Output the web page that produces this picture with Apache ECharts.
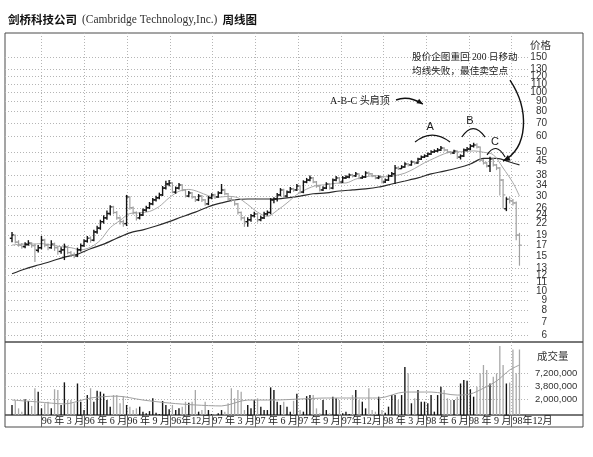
<!DOCTYPE html>
<html><head><meta charset="utf-8">
<script src="https://cdn.jsdelivr.net/npm/echarts@6/dist/echarts.min.js"></script>
<style>html,body{margin:0;padding:0;background:#fff}#c{width:593px;height:457px}</style>
</head><body><div id="c"></div>
<script>
// ---------- data (weekly bars, week 0 = 1995-12-29) ----------
const weekStart = '1995-12-29';
const openP = [
18.4,19.0,17.6,17.0,16.7,17.1,17.4,16.9,16.0,16.5,
18.0,17.0,16.5,17.2,16.5,15.8,16.1,16.7,15.6,15.2,
15.0,16.1,16.9,17.8,18.4,18.0,19.8,20.7,22.3,23.3,
24.5,26.5,24.8,23.3,22.3,21.8,29.7,26.2,24.8,23.3,
24.1,25.5,26.2,27.4,28.7,29.4,30.4,32.9,34.5,34.9,
31.4,32.9,34.1,32.2,30.0,31.1,29.7,28.7,30.0,28.7,
27.4,29.4,30.4,29.7,31.1,32.2,30.8,29.0,28.7,27.4,
24.8,23.3,22.3,22.8,23.9,24.4,22.8,23.3,24.4,24.8,
28.7,29.0,30.4,32.2,30.0,31.4,32.6,32.2,33.7,31.4,
35.3,36.1,37.0,35.3,33.7,32.2,32.9,34.5,32.9,36.1,
37.0,35.3,37.0,37.4,38.3,37.9,38.8,37.0,37.4,39.2,
38.8,37.9,37.0,37.4,35.3,36.1,37.9,38.8,41.5,41.2,
42.0,43.5,43.0,44.5,44.0,46.0,47.1,47.7,48.8,50.0,
50.5,51.1,52.3,51.1,50.0,49.4,50.5,47.1,47.7,51.1,
51.7,53.5,54.2,52.9,45.5,44.0,42.5,46.0,43.0,41.5,
36.1,25.9,28.9,28.4,27.7,19.1];
const highP = [
19.8,19.2,18.0,17.4,17.6,18.0,17.6,17.2,17.0,18.9,
18.3,17.3,18.0,17.5,16.8,16.6,17.3,16.9,15.9,15.6,
16.5,17.3,18.2,18.9,18.8,20.3,21.3,22.8,24.0,25.4,
27.0,26.8,25.2,23.7,22.8,30.4,29.9,26.6,25.1,24.8,
26.0,26.8,28.0,29.3,30.1,31.2,33.7,35.8,36.1,35.2,
33.5,34.9,34.4,32.5,31.8,31.4,30.0,30.7,30.4,29.0,
30.0,31.0,30.8,31.7,34.5,32.6,31.1,29.6,29.0,27.7,
25.1,23.7,23.5,24.4,25.0,24.7,23.9,25.0,25.4,29.3,
29.6,31.1,32.9,32.6,32.0,33.3,33.0,34.5,34.0,36.0,
37.0,38.0,37.4,35.7,34.0,33.6,35.2,34.8,36.8,37.8,
37.4,37.8,38.2,39.0,38.8,39.6,39.1,38.1,40.0,39.8,
39.2,38.3,38.1,37.7,36.8,38.5,39.6,43.0,42.4,42.9,
44.3,44.0,45.3,45.0,46.8,48.0,48.6,49.7,51.0,51.5,
52.3,53.5,52.8,51.6,50.6,51.3,50.8,48.6,52.0,53.0,
54.7,55.6,55.2,53.2,46.0,44.6,47.3,46.4,43.5,42.0,
36.5,29.6,29.7,29.0,28.2,19.6];
const lowP = [
17.6,17.3,16.7,16.3,16.4,16.9,16.5,14.0,15.6,16.2,
16.6,16.0,16.3,15.9,15.2,15.4,14.3,15.3,14.8,14.6,
14.8,15.8,16.7,17.5,17.5,17.8,19.4,20.3,21.8,22.8,
24.0,24.3,22.8,21.6,21.0,21.2,25.6,24.2,22.6,22.9,
23.8,25.0,25.8,27.0,28.2,28.9,30.0,32.4,33.6,31.0,
30.8,32.4,31.7,29.5,29.6,29.1,28.0,28.3,28.0,26.8,
27.0,28.9,29.0,29.4,30.7,30.3,28.5,28.1,26.8,24.2,
22.6,21.0,21.0,22.3,23.4,22.1,22.4,23.0,23.9,24.3,
27.6,28.2,29.9,29.5,29.6,31.0,31.5,31.8,30.9,31.0,
34.8,35.6,34.8,33.0,31.6,31.8,32.5,32.3,32.5,35.6,
34.8,34.9,36.5,36.9,37.2,37.4,36.4,36.6,37.0,38.1,
37.3,36.4,36.5,34.7,34.9,35.7,37.4,34.5,40.6,41.0,
41.6,42.2,42.6,43.2,43.6,45.5,46.6,47.2,48.3,49.4,
49.8,50.6,50.3,49.3,48.5,48.8,46.0,45.8,47.2,50.4,
51.0,52.6,52.0,44.6,43.2,41.7,39.6,42.2,40.5,30.2,
26.0,25.2,27.5,26.9,18.0,13.4];
const closeP = [
19.1,17.6,17.0,16.7,17.2,17.4,16.9,16.1,16.5,18.0,
17.0,16.5,17.2,16.5,15.8,16.1,16.7,15.6,15.2,15.0,
16.1,16.9,17.8,18.4,18.0,19.8,20.7,22.3,23.3,24.5,
26.5,24.8,23.3,22.3,21.8,29.7,26.2,24.8,23.3,24.1,
25.5,26.2,27.4,28.7,29.4,30.4,32.9,34.5,34.9,31.4,
32.9,34.1,32.2,30.0,31.1,29.7,28.7,30.0,28.7,27.4,
29.4,30.4,29.7,31.1,32.2,30.8,29.0,28.7,27.4,24.8,
23.3,22.3,22.8,23.9,24.4,22.8,23.3,24.4,24.8,28.7,
29.0,30.4,32.2,30.0,31.4,32.6,32.2,33.7,31.4,35.3,
36.1,37.0,35.3,33.7,32.2,32.9,34.5,32.9,36.1,37.0,
35.3,37.0,37.4,38.3,37.9,38.8,37.0,37.4,39.2,38.8,
37.9,37.0,37.4,35.3,36.1,37.9,38.8,41.5,41.2,42.0,
43.5,43.0,44.5,44.0,46.0,47.1,47.7,48.8,50.0,50.5,
51.1,52.3,51.1,50.0,49.4,50.5,47.1,47.7,51.1,51.7,
53.5,54.2,52.9,45.5,44.0,42.5,46.0,43.0,41.5,36.1,
30.4,28.9,28.4,27.7,19.1,17.0];
// weekly volume, millions of shares
const volume = [
1.49,1.83,1.26,1.07,1.97,1.81,1.42,3.4,2.87,1.26,
1.62,1.75,1.26,3.24,3.1,1.49,4.55,1.9,1.9,1.62,
4.3,1.75,1.16,2.43,3.4,1.75,3.0,2.87,2.6,1.9,
1.37,2.43,2.43,1.62,2.3,1.49,1.37,1.16,1.26,1.37,
1.07,0.99,1.1,2.07,1.02,0.95,1.81,1.49,1.2,1.49,
1.16,1.26,1.37,1.75,1.67,1.75,3.1,1.07,1.16,1.75,
1.16,0.95,0.95,0.99,1.16,1.07,1.62,3.4,2.07,3.1,
2.87,1.16,1.49,1.26,1.9,2.07,
1.37,1.16,1.16,3.55,3.1,1.75,1.49,1.75,1.37,1.07,
1.83,2.6,1.16,1.07,2.3,2.43,2.43,1.26,0.99,1.9,
1.16,0.99,2.24,2.07,1.9,0.99,1.07,0.95,2.43,3.1,
1.9,1.75,1.26,3.4,1.16,1.07,2.24,1.16,1.02,1.37,
2.43,2.43,1.9,2.43,9.7,7.1,1.62,2.07,3.1,1.75,
1.75,1.62,2.43,1.07,2.43,3.66,3.1,2.07,1.9,1.9,
2.24,4.3,5.1,4.9,3.24,2.24,3.66,7.1,10.7,8.35,
4.3,6.0,7.1,27.3,10.7,4.3,4.5,23,7.1,23];
// 200-day moving average (read every 4 weeks)
const ma200Weeks = [0,4,8,12,16,20,24,28,32,36,40,44,48,52,56,60,64,68,72,76,80,84,88,92,96,100,104,108,112,116,120,124,128,132,136,140,144,148,152,155];
const ma200 = [12.2,12.9,13.5,14.1,14.8,15.3,16.3,17.2,18.4,19.6,20.3,21.2,22.3,23.6,24.9,26.5,27.7,28.7,29.0,29.0,29.0,29.4,30.0,30.8,31.1,31.8,32.2,32.6,33.3,34.5,35.7,37.0,38.8,40.0,41.5,43.5,46.4,46.4,44.5,43.0];
// short moving average (read every 3 weeks)
const ma10Weeks = [0,3,6,9,12,15,18,21,24,27,30,33,36,39,42,45,48,51,54,57,60,63,66,69,72,75,78,81,84,87,90,93,96,99,102,105,108,111,114,117,120,123,126,129,132,135,138,141,144,147,150,153,155];
const ma10 = [17.0,17.2,17.2,17.3,17.0,16.7,16.5,16.1,16.6,18.0,20.8,22.6,24.5,24.7,25.1,26.6,29.4,31.7,32.4,31.5,30.1,29.6,29.9,29.4,27.2,24.9,23.7,25.4,27.7,30.5,32.5,33.9,34.2,34.8,34.9,36.5,37.5,38.0,37.5,38.0,39.1,41.3,44.1,46.5,48.9,50.1,50.1,50.6,49.8,48.4,41.5,35.0,30.0];
// volume moving average (millions)
const volMaWeeks = [0,8,16,24,32,40,48,56,64,72,80,88,96,104,112,120,128,136,140,144,148,152,155];
const volMa = [1.9,1.73,1.57,2.1,2.3,1.9,1.64,1.49,1.42,1.9,1.9,2.0,2.1,2.1,2.1,2.82,2.82,2.43,2.56,3.4,4.85,8.35,10.7];
// axes
const priceTicks = [6,7,8,9,10,11,12,13,15,17,19,22,24,26,30,34,38,45,50,60,70,80,90,100,110,120,130,150];
const volTicks = [2,3.8,7.2];
const quarterStarts = ['1996-03-01','1996-06-01','1996-09-01','1996-12-01','1997-03-01','1997-06-01','1997-09-01','1997-12-01','1998-03-01','1998-06-01','1998-09-01','1998-12-01','1999-03-01'];
const quarterLabels = ['96 年 3 月','96 年 6 月','96 年 9 月','96年12月','97 年 3 月','97 年 6 月','97 年 9 月','97年12月','98 年 3 月','98 年 6 月','98 年 9 月','98年12月'];
// annotations in (week, price) space
const notes = {
  abc: [97.1, 90.1],
  arrow1: [[117.3, 91.2],[121.0, 96.6],[125.5, 87.0]],
  line1: [122.2, 150], line2: [122.2, 127.5],
  arrow2: [[152.1, 114.9],[158.2, 81.2],[157.6, 52.3],[150.0, 45.0]],
  arcA: [[123.1,56.1],[128.3,65.9],[133.8,56.1]], labA: [127.7, 66.5],
  arcB: [[137.4,59.4],[140.8,72.3],[144.5,59.4]], labB: [139.9, 71.5],
  arcC: [[145.1,48.3],[147.8,56.7],[150.6,47.1]], labC: [147.5, 56.0]
};

// ---------- layout ----------
const PXW = 3.274;            // pixels per week
const LEFT = 5, DATA_W = 525, FULL_W = 578;
const XMIN = -7 / PXW;
const XMAX = XMIN + DATA_W / PXW;
const XMAX_FULL = XMIN + FULL_W / PXW;
const wk = d => (Date.parse(d) - Date.parse(weekStart)) / (7 * 864e5);
const qPos = quarterStarts.map(wk);
const qSep = qPos.slice(0, 12);
const qMid = quarterLabels.map((_, k) => (qPos[k] + qPos[k + 1]) / 2);
const P_MIN = 5.54, P_MAX = 198, V_MIN = 0.908, V_MAX = 33.3;

const CJK = '"Noto Sans CJK SC"';
const dot = { show: true, lineStyle: { color: '#b5b5b5', width: 1, type: [1, 2] } };

const barData = closeP.map((c, i) => [i, openP[i], highP[i], lowP[i], c]);
const volData = volume.map((v, i) => [i, v, closeP[i] >= openP[i] ? 1 : 0]);

function renderBar(params, api) {
  const i = api.value(0), o = api.value(1), h = api.value(2), l = api.value(3), c = api.value(4);
  const ph = api.coord([i, h]), pl = api.coord([i, l]), po = api.coord([i, o]), pc = api.coord([i, c]);
  const up = c >= o;
  const col = up ? '#141414' : '#a0a0a0';
  const lw = up ? 1.4 : 1.2, t = 2.2;
  return { type: 'group', children: [
    { type: 'line', shape: { x1: ph[0], y1: ph[1], x2: pl[0], y2: pl[1] }, style: { stroke: col, lineWidth: lw } },
    { type: 'line', shape: { x1: po[0] - t, y1: po[1], x2: po[0], y2: po[1] }, style: { stroke: col, lineWidth: lw } },
    { type: 'line', shape: { x1: pc[0], y1: pc[1], x2: pc[0] + t, y2: pc[1] }, style: { stroke: col, lineWidth: lw } }
  ]};
}
function renderVol(params, api) {
  const i = api.value(0), v = api.value(1), up = api.value(2);
  const top = api.coord([i, v]), bot = api.coord([i, V_MIN]);
  return { type: 'line', shape: { x1: top[0], y1: top[1], x2: bot[0], y2: bot[1] },
    style: { stroke: up ? '#141414' : '#a8a8a8', lineWidth: up ? 1.4 : 1.3 } };
}
function renderNotes(params, api) {
  const P = p => api.coord(p);
  const ink = '#111';
  const quad = (a, b, c, w) => { const A = P(a), B = P(b), C = P(c);
    return { type: 'bezierCurve', shape: { x1: A[0], y1: A[1], cpx1: B[0], cpy1: B[1], x2: C[0], y2: C[1] },
      style: { stroke: ink, lineWidth: w || 1.2, fill: 'none' } }; };
  const cubic = (a, b, c, d) => { const A = P(a), B = P(b), C = P(c), D = P(d);
    return { type: 'bezierCurve', shape: { x1: A[0], y1: A[1], cpx1: B[0], cpy1: B[1], cpx2: C[0], cpy2: C[1], x2: D[0], y2: D[1] },
      style: { stroke: ink, lineWidth: 1.4, fill: 'none' } }; };
  const head = (from, to, len, wid) => { const F = P(from), T = P(to);
    const dx = T[0] - F[0], dy = T[1] - F[1], d = Math.hypot(dx, dy), ux = dx / d, uy = dy / d;
    return { type: 'polygon', shape: { points: [[T[0], T[1]],
      [T[0] - ux * len - uy * wid, T[1] - uy * len + ux * wid],
      [T[0] - ux * len + uy * wid, T[1] - uy * len - ux * wid]] }, style: { fill: ink } }; };
  const txt = (p, s, font, align) => { const A = P(p);
    return { type: 'text', style: { text: s, x: A[0], y: A[1], font: font, fill: '#1a1a1a',
      align: align, textAlign: align, verticalAlign: 'middle', textVerticalAlign: 'middle' } }; };
  const f1 = '9.6px "Liberation Serif", ' + CJK;
  const fA = '10px "Liberation Serif", ' + CJK;
  const fL = '11px "Liberation Sans"';
  const a1 = notes.arrow1, a2 = notes.arrow2;
  return { type: 'group', children: [
    txt(notes.abc, 'A-B-C 头肩顶', fA, 'left'),
    quad(a1[0], a1[1], a1[2], 1.4), head(a1[1], a1[2], 6, 2.6),
    txt(notes.line1, '股价企图重回 200 日移动', f1, 'left'),
    txt(notes.line2, '均线失败，最佳卖空点', f1, 'left'),
    cubic(a2[0], a2[1], a2[2], a2[3]), head(a2[2], a2[3], 7, 3),
    quad(notes.arcA[0], notes.arcA[1], notes.arcA[2]), txt(notes.labA, 'A', fL, 'center'),
    quad(notes.arcB[0], notes.arcB[1], notes.arcB[2]), txt(notes.labB, 'B', fL, 'center'),
    quad(notes.arcC[0], notes.arcC[1], notes.arcC[2]), txt(notes.labC, 'C', fL, 'center')
  ]};
}

const hidden = g => ({ gridIndex: g, type: 'value', show: false, min: 0, max: 1 });
const frame = { show: true, borderColor: '#4a4a4a', borderWidth: 1, backgroundColor: 'transparent', outerBoundsMode: 'none' };

const option = {
  animation: false,
  backgroundColor: '#fff',
  title: {
    left: 3, top: 6,
    text: '{b|剑桥科技公司} {r|(Cambridge Technology,Inc.)} {b|周线图}',
    textStyle: { fontWeight: 'normal', rich: {
      b: { fontFamily: CJK, fontWeight: 'bold', fontSize: 11.5, color: '#111' },
      r: { fontFamily: 'Liberation Serif', fontWeight: 'normal', fontSize: 11.5, color: '#333' } } }
  },
  graphic: [
    { type: 'text', left: 530, top: 40, style: { text: '价格', font: '10.5px ' + CJK, fill: '#333' } },
    { type: 'text', left: 537, top: 351, style: { text: '成交量', font: '10.5px ' + CJK, fill: '#333' } }
  ],
  grid: [
    { left: LEFT, top: 33, width: DATA_W, height: 309, show: false, outerBoundsMode: 'none' },
    { left: LEFT, top: 342, width: DATA_W, height: 73, show: false, outerBoundsMode: 'none' },
    Object.assign({ left: LEFT, top: 33, width: FULL_W, height: 309 }, frame),
    Object.assign({ left: LEFT, top: 342, width: FULL_W, height: 73 }, frame),
    Object.assign({ left: LEFT, top: 415, width: FULL_W, height: 12 }, frame)
  ],
  xAxis: [
    { gridIndex: 0, type: 'value', min: XMIN, max: XMAX, axisLine: { show: false },
      axisTick: { show: false, customValues: qSep }, axisLabel: { show: false }, splitLine: dot },
    { gridIndex: 1, type: 'value', min: XMIN, max: XMAX, axisLine: { show: false },
      axisTick: { show: false, customValues: qSep }, axisLabel: { show: false }, splitLine: dot },
    hidden(2), hidden(3),
    { gridIndex: 4, type: 'value', min: XMIN, max: XMAX_FULL, axisLine: { show: false },
      axisTick: { show: false, customValues: qSep },
      splitLine: { show: true, lineStyle: { color: '#666', width: 1 } },
      axisLabel: { show: true, inside: true, margin: 1, customValues: qMid,
        showMinLabel: true, showMaxLabel: true, hideOverlap: false, interval: 0,
        fontFamily: '"Liberation Serif", ' + CJK, fontSize: 10, color: '#222',
        formatter: v => { const k = qMid.findIndex(m => Math.abs(m - v) < 0.01); return k >= 0 ? quarterLabels[k] : ''; } } }
  ],
  yAxis: [
    { gridIndex: 0, type: 'log', logBase: 10, min: P_MIN, max: P_MAX, position: 'right',
      axisLine: { show: false }, axisTick: { show: false, customValues: priceTicks },
      axisLabel: { customValues: priceTicks, align: 'right', margin: 17, fontSize: 10,
        showMinLabel: true, showMaxLabel: true, hideOverlap: false,
        fontFamily: '"Liberation Sans Narrow", "Liberation Sans"', color: '#333', formatter: v => String(Math.round(v)) },
      splitLine: dot },
    { gridIndex: 1, type: 'log', logBase: 10, min: V_MIN, max: V_MAX, position: 'right',
      axisLine: { show: false }, axisTick: { show: false, customValues: volTicks },
      axisLabel: { customValues: volTicks, margin: 5, fontSize: 9.5,
        fontFamily: '"Liberation Sans"', color: '#333',
        formatter: v => Math.round(v * 1e6).toLocaleString('en-US') },
      splitLine: dot },
    hidden(2), hidden(3), hidden(4)
  ],
  series: [
    { type: 'line', xAxisIndex: 0, yAxisIndex: 0, data: ma200Weeks.map((w, k) => [w, ma200[k]]),
      smooth: 0.3, symbol: 'none', lineStyle: { color: '#2a2a2a', width: 1.2 }, z: 2 },
    { type: 'line', xAxisIndex: 0, yAxisIndex: 0, data: ma10Weeks.map((w, k) => [w, ma10[k]]),
      smooth: 0.3, symbol: 'none', lineStyle: { color: '#a8a8a8', width: 1 }, z: 2 },
    { type: 'custom', xAxisIndex: 0, yAxisIndex: 0, data: barData, renderItem: renderBar,
      encode: { x: 0, y: [1, 2, 3, 4] }, z: 3 },
    { type: 'custom', xAxisIndex: 1, yAxisIndex: 1, data: volData, renderItem: renderVol,
      encode: { x: 0, y: 1 }, z: 3 },
    { type: 'line', xAxisIndex: 1, yAxisIndex: 1, data: volMaWeeks.map((w, k) => [w, volMa[k]]),
      smooth: 0.3, symbol: 'none', lineStyle: { color: '#a0a0a0', width: 1 }, z: 4 },
    { type: 'custom', xAxisIndex: 0, yAxisIndex: 0, data: [[0, 10]], renderItem: renderNotes, z: 5, silent: true }
  ]
};
const chart = echarts.init(document.getElementById('c'), null, { renderer: 'canvas' });
chart.setOption(option);
</script>
</body></html>
